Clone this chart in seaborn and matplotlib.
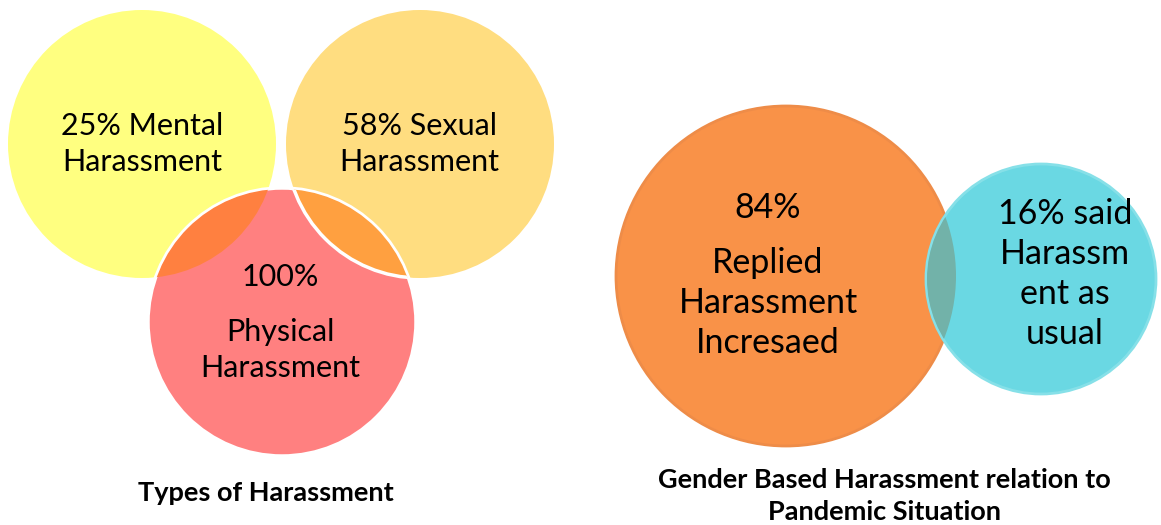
import matplotlib
matplotlib.use("Agg")
import matplotlib.pyplot as plt
from matplotlib.patches import Circle
import seaborn as sns

# data
types_labels = ["Mental", "Sexual", "Physical"]
types_pct = [25, 58, 100]
types_title = "Types of Harassment"

pandemic_labels = ["Replied\nHarassment\nIncresaed", "said\nHarassm\nent as\nusual"]
pandemic_pct = [84, 16]
pandemic_title = "Gender Based Harassment relation to\nPandemic Situation"

sns.set_theme(style="white")
plt.rcParams['font.family'] = ['Lato', 'DejaVu Sans']
plt.rcParams['text.color'] = 'black'

fig = plt.figure(figsize=(11.61, 5.25), dpi=100)
ax = fig.add_axes([0, 0, 1, 1])
ax.set_xlim(0, 1161)
ax.set_ylim(525, 0)
ax.set_aspect("equal")
ax.axis("off")

# ---- left: three overlapping circles ----
r = 134
centers = {"Mental": (142, 144), "Sexual": (420, 144), "Physical": (282, 322)}
fills = {"Mental": "#FFFF80", "Sexual": "#FFDD80", "Physical": "#FF8080"}

ax.add_patch(Circle(centers["Mental"], r, fc=fills["Mental"], ec="none", zorder=1))
ax.add_patch(Circle(centers["Sexual"], r, fc=fills["Sexual"], ec="none", zorder=1))
red = Circle(centers["Physical"], r, fc=fills["Physical"], ec="white", lw=2.5, zorder=2)
ax.add_patch(red)

# overlaps, clipped to the physical circle
ov1 = Circle(centers["Mental"], r, fc="#FF8040", ec="none", zorder=3)
ax.add_patch(ov1)
ov1.set_clip_path(Circle(centers["Physical"], r - 1, transform=ax.transData))
ov2 = Circle(centers["Sexual"], r, fc="#FFA040", ec="white", lw=2.5, zorder=3)
ax.add_patch(ov2)
ov2.set_clip_path(Circle(centers["Physical"], r - 1, transform=ax.transData))

fs = 22
ls = 1.36
ax.text(142, 144, f"{types_pct[0]}% {types_labels[0]}\nHarassment", ha="center", va="center",
        fontsize=fs, linespacing=ls, zorder=5)
ax.text(419, 144, f"{types_pct[1]}% {types_labels[1]}\nHarassment", ha="center", va="center",
        fontsize=fs, linespacing=ls, zorder=5)
ax.text(280, 277, f"{types_pct[2]}%", ha="center", va="center", fontsize=fs, zorder=5)
ax.text(280, 350, f"{types_labels[2]}\nHarassment", ha="center", va="center",
        fontsize=fs, linespacing=ls, zorder=5)
ax.text(266, 493, types_title, ha="center", va="center", fontsize=19.5, fontweight="bold")

# ---- right: two circles ----
c_big, r_big = (786, 276), 170
c_small, r_small = (1041, 279), 115
ax.add_patch(Circle(c_big, r_big, fc="#F99248", ec="#EE8C48", lw=2, zorder=1))
ax.add_patch(Circle(c_small, r_small, fc="#6AD8E3", ec="#86E0E8", lw=2, zorder=2))
ov3 = Circle(c_big, r_big, fc="#72B2A9", ec="none", zorder=3)
ax.add_patch(ov3)
ov3.set_clip_path(Circle(c_small, r_small - 1, transform=ax.transData))

fs2 = 24.5
ls2 = 1.32
ax.text(768, 208, f"{pandemic_pct[0]}%", ha="center", va="center", fontsize=fs2, zorder=5)
ax.text(768, 303, pandemic_labels[0], ha="center", va="center", fontsize=fs2,
        linespacing=ls2, zorder=5)
ax.text(1065, 274, f"{pandemic_pct[1]}% {pandemic_labels[1]}", ha="center", va="center",
        fontsize=fs2, linespacing=ls2, zorder=5)
ax.text(884, 496, pandemic_title, ha="center", va="center", fontsize=19.5,
        fontweight="bold", linespacing=1.41)

fig.savefig("out.png", dpi=100)
